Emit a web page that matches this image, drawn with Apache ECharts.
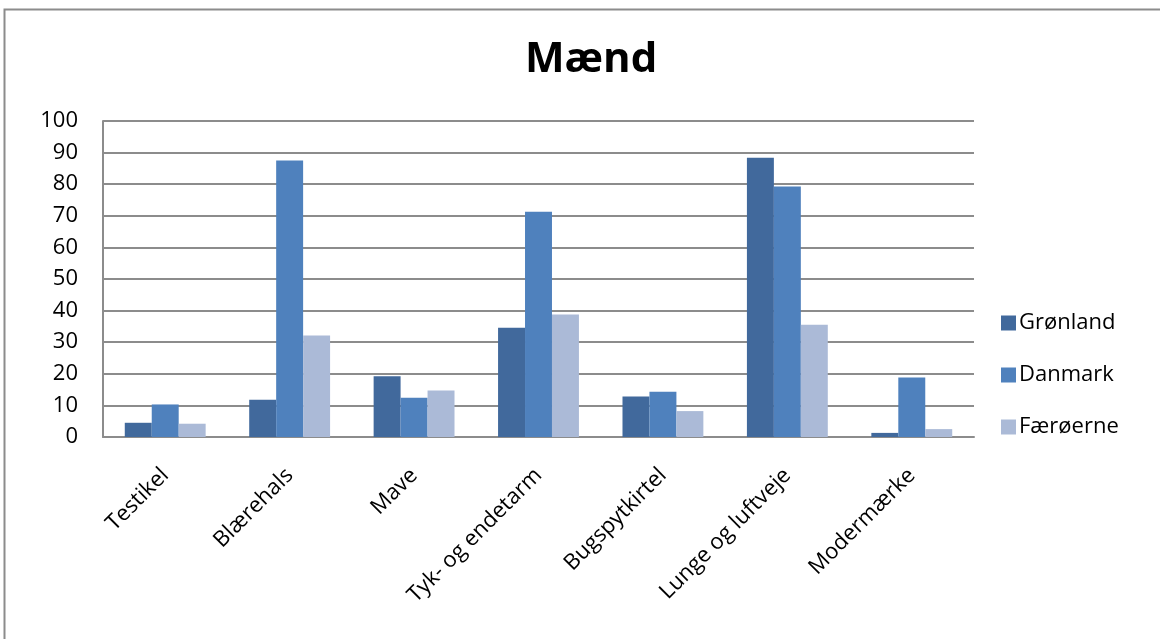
<!DOCTYPE html>
<html>
<head>
<meta charset="utf-8">
<script src="https://cdn.jsdelivr.net/npm/echarts@6/dist/echarts.min.js"></script>
<style>
  html, body { margin: 0; padding: 0; background: #fff; }
  #chart { width: 1160px; height: 639px; }
</style>
</head>
<body>
<div id="chart"></div>
<script>
// Kræfttilfælde blandt mænd, fordelt på kræftform og land
const categories = ['Testikel', 'Blærehals', 'Mave', 'Tyk- og endetarm', 'Bugspytkirtel', 'Lunge og luftveje', 'Modermærke'];
const seriesNames = ['Grønland', 'Danmark', 'Færøerne'];
const groenland = [4.5, 11.8, 19.2, 34.6, 12.8, 88.4, 1.3];
const danmark = [10.3, 87.5, 12.4, 71.3, 14.3, 79.3, 18.8];
const faeroeerne = [4.2, 32.1, 14.7, 38.8, 8.2, 35.5, 2.5];
const colors = ['#41699c', '#4f81bd', '#abbad7'];

const font = 'Open Sans, Liberation Sans, sans-serif';
const chart = echarts.init(document.getElementById('chart'), null, { renderer: 'canvas' });

const values = [groenland, danmark, faeroeerne];

chart.setOption({
  animation: false,
  backgroundColor: '#ffffff',
  graphic: [{
    type: 'rect',
    shape: { x: 4.5, y: 9.5, width: 1170, height: 650 },
    style: { fill: 'none', stroke: '#8c8c8c', lineWidth: 2 },
    silent: true
  }],
  title: {
    text: 'Mænd',
    left: 520,
    top: 34,
    textStyle: { fontFamily: font, fontWeight: 'bold', fontSize: 42, color: '#000' }
  },
  legend: {
    orient: 'vertical',
    left: 996,
    top: 307,
    itemWidth: 15,
    itemHeight: 15,
    itemGap: 30,
    icon: 'rect',
    data: seriesNames,
    textStyle: { fontFamily: font, fontSize: 22, color: '#000', padding: [0, 0, 0, -2] }
  },
  grid: { left: 103, right: 186, top: 121, bottom: 202, containLabel: false },
  xAxis: {
    type: 'category',
    data: categories,
    axisLine: { lineStyle: { color: '#8c8c8c', width: 2 } },
    axisTick: { show: false },
    axisLabel: {
      rotate: 45,
      interval: 0,
      margin: 35,
      fontFamily: font,
      fontSize: 22,
      color: '#000'
    }
  },
  yAxis: {
    type: 'value',
    min: 0,
    max: 100,
    interval: 10,
    axisLine: { show: true, lineStyle: { color: '#8c8c8c', width: 2 } },
    axisTick: { show: false },
    axisLabel: { fontFamily: font, fontSize: 22, color: '#000', margin: 25 },
    splitLine: { lineStyle: { color: '#8c8c8c', width: 2 } }
  },
  series: seriesNames.map((name, i) => ({
    name: name,
    type: 'bar',
    data: values[i],
    barGap: '0%',
    barCategoryGap: '35%',
    itemStyle: { color: colors[i] }
  }))
});
</script>
</body>
</html>
